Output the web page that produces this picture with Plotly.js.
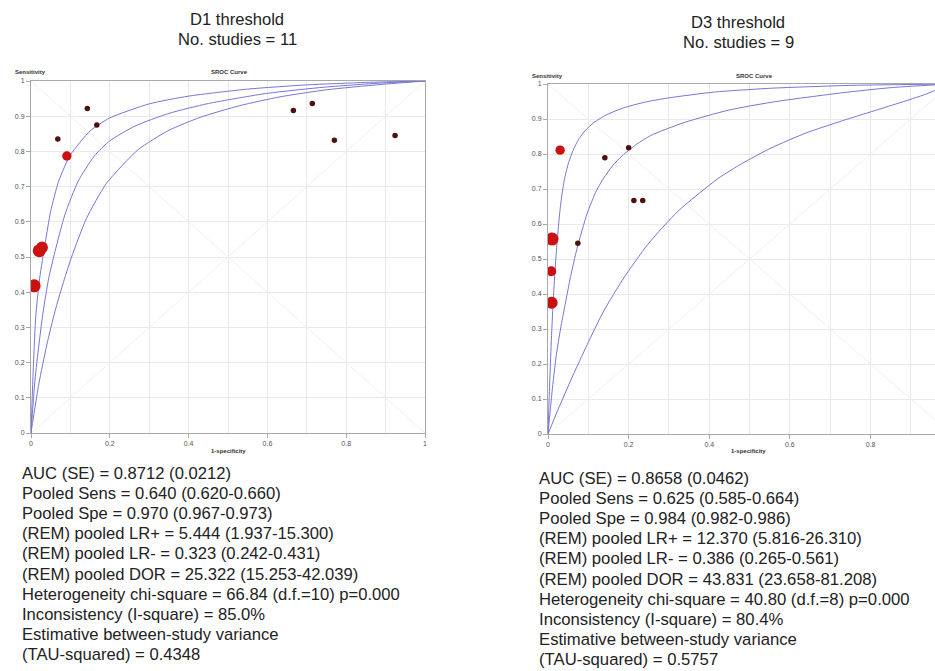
<!DOCTYPE html>
<html>
<head>
<meta charset="utf-8">
<script src="https://cdn.plot.ly/plotly-3.0.1.min.js"></script>
<style>html,body{margin:0;padding:0;background:#fff;overflow:hidden}#chart{width:935px;height:671px}</style>
</head>
<body>
<div id="chart"></div>
<script>
// ---------- Data: D1 threshold ----------
const d1FPR  = [0.008, 0.021, 0.028, 0.068, 0.091, 0.143, 0.167, 0.666, 0.714, 0.770, 0.924];
const d1Sens = [0.418, 0.518, 0.527, 0.835, 0.787, 0.922, 0.875, 0.916, 0.936, 0.832, 0.845];
const d1Weight = [3, 3, 2.6, 0.5, 1.8, 0.5, 0.5, 0.5, 0.5, 0.5, 0.5];

const d1UpperX = [0, 0.005, 0.012, 0.022, 0.036, 0.05, 0.07, 0.1, 0.15, 0.2, 0.3, 0.4, 0.55, 0.7, 0.85, 1];
const d1UpperY = [0, 0.16, 0.33, 0.44, 0.54, 0.63, 0.715, 0.79, 0.858, 0.895, 0.935, 0.957, 0.977, 0.989, 0.996, 1];
const d1MidX = [0, 0.01, 0.02, 0.031, 0.045, 0.061, 0.086, 0.12, 0.16, 0.2, 0.264, 0.35, 0.45, 0.6, 0.75, 0.9, 1];
const d1MidY = [0, 0.15, 0.25, 0.346, 0.44, 0.516, 0.62, 0.716, 0.786, 0.83, 0.872, 0.908, 0.936, 0.965, 0.983, 0.995, 1];
const d1LowX = [0, 0.02, 0.04, 0.061, 0.08, 0.103, 0.141, 0.192, 0.272, 0.35, 0.43, 0.53, 0.632, 0.75, 0.886, 1];
const d1LowY = [0, 0.14, 0.25, 0.346, 0.42, 0.5, 0.61, 0.71, 0.805, 0.86, 0.897, 0.93, 0.955, 0.975, 0.99, 1];

// ---------- Data: D3 threshold ----------
const d3FPR  = [0.010, 0.008, 0.009, 0.030, 0.074, 0.141, 0.200, 0.213, 0.235];
const d3Sens = [0.557, 0.465, 0.375, 0.811, 0.545, 0.789, 0.818, 0.667, 0.667];
const d3Weight = [3, 2, 2.7, 1.8, 0.5, 0.5, 0.5, 0.5, 0.5];

const d3UpperX = [0, 0.004, 0.008, 0.012, 0.017, 0.022, 0.028, 0.034, 0.042, 0.051, 0.062, 0.076, 0.093, 0.113, 0.145, 0.188, 0.24, 0.297, 0.413, 0.555, 0.75, 1];
const d3UpperY = [0, 0.14, 0.26, 0.36, 0.46, 0.54, 0.62, 0.68, 0.735, 0.775, 0.81, 0.842, 0.868, 0.889, 0.912, 0.932, 0.948, 0.96, 0.977, 0.988, 0.996, 1];
const d3MidX = [0, 0.01, 0.02, 0.031, 0.0425, 0.056, 0.072, 0.097, 0.12, 0.138, 0.16, 0.184, 0.22, 0.255, 0.338, 0.447, 0.555, 0.73, 0.855, 1];
const d3MidY = [0, 0.12, 0.22, 0.3, 0.37, 0.45, 0.53, 0.63, 0.695, 0.731, 0.766, 0.795, 0.828, 0.853, 0.89, 0.925, 0.948, 0.975, 0.99, 1];
const d3LowX = [0, 0.025, 0.059, 0.097, 0.138, 0.188, 0.247, 0.322, 0.422, 0.48, 0.555, 0.64, 0.73, 0.855, 0.93, 1];
const d3LowY = [0, 0.07, 0.16, 0.255, 0.351, 0.446, 0.541, 0.636, 0.73, 0.772, 0.818, 0.86, 0.895, 0.94, 0.968, 1];

const diagX = [0, 1];
const diagY = [0, 1];
const antiY = [1, 0];

const titlesD1 = ["D1 threshold", "No. studies = 11"];
const titlesD3 = ["D3 threshold", "No. studies = 9"];

const statsD1 = [
  "AUC (SE) = 0.8712 (0.0212)",
  "Pooled Sens = 0.640 (0.620-0.660)",
  "Pooled Spe = 0.970 (0.967-0.973)",
  "(REM) pooled LR+ = 5.444 (1.937-15.300)",
  "(REM) pooled LR- = 0.323 (0.242-0.431)",
  "(REM) pooled DOR = 25.322 (15.253-42.039)",
  "Heterogeneity chi-square = 66.84 (d.f.=10) p=0.000",
  "Inconsistency (I-square) = 85.0%",
  "Estimative between-study variance",
  "(TAU-squared) = 0.4348"
];
const statsD3 = [
  "AUC (SE) = 0.8658 (0.0462)",
  "Pooled Sens = 0.625 (0.585-0.664)",
  "Pooled Spe = 0.984 (0.982-0.986)",
  "(REM) pooled LR+ = 12.370 (5.816-26.310)",
  "(REM) pooled LR- = 0.386 (0.265-0.561)",
  "(REM) pooled DOR = 43.831 (23.658-81.208)",
  "Heterogeneity chi-square = 40.80 (d.f.=8) p=0.000",
  "Inconsistency (I-square) = 80.4%",
  "Estimative between-study variance",
  "(TAU-squared) = 0.5757"
];

// ---------- Helpers ----------
const W = 935, H = 671;
const px = v => v / W;
const py = v => 1 - v / H;
const FONT = "Liberation Sans, Arial, sans-serif";
const curveColor = "rgb(118,118,212)";
const sizeOf = w => 4 + w * 3;
const colorOf = w => w >= 1 ? "#cc0f0f" : "#501010";

function curve(x, y, xa, ya) {
  return {x, y, xaxis: xa, yaxis: ya, mode: "lines", type: "scatter",
    line: {color: curveColor, width: 1, shape: "spline", smoothing: 0.6}, hoverinfo: "skip"};
}
function diag(x, y, xa, ya) {
  return {x, y, xaxis: xa, yaxis: ya, mode: "lines", type: "scatter",
    line: {color: "#f0f0f0", width: 1}, hoverinfo: "skip"};
}
function pts(x, y, w, xa, ya) {
  return {x, y, xaxis: xa, yaxis: ya, mode: "markers", type: "scatter", opacity: 1,
    marker: {size: w.map(sizeOf), color: w.map(colorOf), opacity: 1, line: {width: 0}}};
}

const traces = [
  diag(diagX, diagY, "x", "y"), diag(diagX, antiY, "x", "y"),
  curve(d1UpperX, d1UpperY, "x", "y"), curve(d1MidX, d1MidY, "x", "y"), curve(d1LowX, d1LowY, "x", "y"),
  pts(d1FPR, d1Sens, d1Weight, "x", "y"),
  diag(diagX, diagY, "x2", "y2"), diag(diagX, antiY, "x2", "y2"),
  curve(d3UpperX, d3UpperY, "x2", "y2"), curve(d3MidX, d3MidY, "x2", "y2"), curve(d3LowX, d3LowY, "x2", "y2"),
  pts(d3FPR, d3Sens, d3Weight, "x2", "y2")
];

function xAxis(domain, range, anchor) {
  return {domain, range, anchor, dtick: 0.2, tick0: 0, showgrid: true, gridcolor: "#e9e9e9",
    minor: {dtick: 0.1, showgrid: true, gridcolor: "#e9e9e9", ticks: ""},
    showline: true, mirror: true, linecolor: "#a8a8a8", linewidth: 1,
    ticks: "outside", ticklen: 4, tickcolor: "#a8a8a8",
    tickfont: {family: FONT, size: 7, color: "#555"}, zeroline: false, fixedrange: true};
}
function yAxis(domain, anchor) {
  return {domain, range: [0, 1], anchor, dtick: 0.1, tick0: 0, showgrid: true, gridcolor: "#e9e9e9",
    showline: true, mirror: true, linecolor: "#a8a8a8", linewidth: 1,
    ticks: "outside", ticklen: 4, tickcolor: "#a8a8a8",
    tickfont: {family: FONT, size: 7, color: "#555"}, zeroline: false, fixedrange: true};
}

const annotations = [];
function txt(text, x, y, opts) {
  annotations.push(Object.assign({text, x: px(x), y: py(y), xref: "paper", yref: "paper",
    showarrow: false, xanchor: "center", yanchor: "middle",
    font: {family: FONT, size: 16.6, color: "#222"}}, opts || {}));
}
titlesD1.forEach((t, i) => txt(t, 237, 20 + i * 20));
titlesD3.forEach((t, i) => txt(t, 738, 22 + i * 20));
statsD1.forEach((t, i) => txt(t, 20, 473 + i * 20.2, {xanchor: "left"}));
statsD3.forEach((t, i) => txt(t, 537, 478 + i * 20.2, {xanchor: "left",
  font: {family: FONT, size: 16.7, color: "#222"}}));
const small = {family: FONT, size: 6, color: "#333"};
txt("<b>Sensitivity</b>", 13, 72, {xanchor: "left", font: small});
txt("<b>SROC Curve</b>", 229, 72, {font: small});
txt("<b>1-specificity</b>", 228, 451, {font: small});
txt("<b>Sensitivity</b>", 530, 76, {xanchor: "left", font: small});
txt("<b>SROC Curve</b>", 754, 76, {font: small});
txt("<b>1-specificity</b>", 748, 451, {font: small});

const layout = {
  width: W, height: H, margin: {l: 0, r: 0, t: 0, b: 0},
  paper_bgcolor: "#fff", plot_bgcolor: "#fff", showlegend: false,
  xaxis: xAxis([px(31), px(425)], [0, 1], "y"),
  yaxis: yAxis([py(433), py(81)], "x"),
  xaxis2: xAxis([px(548), 1], [0, 0.96], "y2"),
  yaxis2: yAxis([py(434), py(84)], "x2"),
  annotations
};

Plotly.newPlot("chart", traces, layout, {displayModeBar: false, staticPlot: true});
</script>
</body>
</html>
